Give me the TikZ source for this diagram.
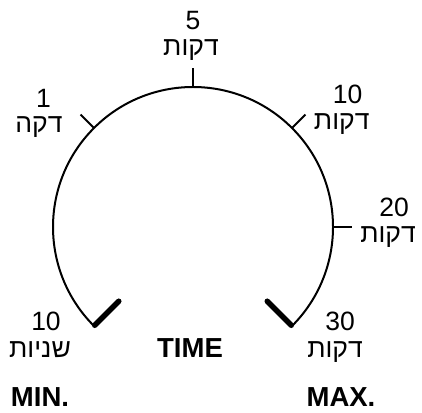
\documentclass[tikz,border=0pt]{standalone}
\usepackage{fontspec}
\setmainfont{Liberation Sans}
\newfontfamily\hebfont[Script=Hebrew]{Liberation Sans}
\TeXXeTstate=1
\usetikzlibrary{calc}

\begin{document}
\begin{tikzpicture}[x=1pt, y=1pt,
  dial/.style={line width=2pt},
  knobmark/.style={line width=5.5pt, line cap=round},
  numtext/.style={font=\fontsize{26.5}{30}\selectfont, anchor=base, inner sep=0pt},
  hebtext/.style={font=\fontsize{26.5}{30}\selectfont\hebfont, anchor=base, inner sep=0pt},
  boldtext/.style={font=\fontsize{27.5}{32}\selectfont\bfseries, anchor=base, inner sep=0pt}
]
\useasboundingbox (0,0) rectangle (422,412);
\coordinate (c) at (193,185);

%% Dial arc and ticks
\draw[dial] ($(c)+(225:140)$) arc[start angle=225, end angle=-45, radius=140];
\foreach \a in {135, 90, 45, 0} {
  \draw[dial] ($(c)+(\a:140)$) -- ($(c)+(\a:159)$);
}

%% Min and max stops
\draw[knobmark] ($(c)+(225:139)$) -- ($(c)+(225:105)$);
\draw[knobmark] ($(c)+(-45:139)$) -- ($(c)+(-45:105)$);

%% Scale labels
\node[numtext] (fiveN) at (193, 382.7) {5};
\node[hebtext] (fiveH) at (191, 356) {\beginR דקות\endR};
\node[numtext] (oneN) at (43.5, 304.7) {1};
\node[hebtext] (oneH) at (39, 279) {\beginR דקה\endR};
\node[numtext] (tenN) at (347.5, 308.7) {10};
\node[hebtext] (tenH) at (341.7, 282) {\beginR דקות\endR};
\node[numtext] (twentyN) at (394, 195.3) {20};
\node[hebtext] (twentyH) at (388, 169) {\beginR דקות\endR};
\node[numtext] (secN) at (46, 82) {10};
\node[hebtext] (secH) at (40, 55) {\beginR שניות\endR};
\node[numtext] (thirtyN) at (340, 82) {30};
\node[hebtext] (thirtyH) at (335, 55) {\beginR דקות\endR};

%% Knob captions
\node[boldtext] (timeL) at (190, 54.7) {TIME};
\node[boldtext] (minL) at (40, 5.5) {MIN.};
\node[boldtext] (maxL) at (341, 5.5) {MAX.};
\end{tikzpicture}
\end{document}
